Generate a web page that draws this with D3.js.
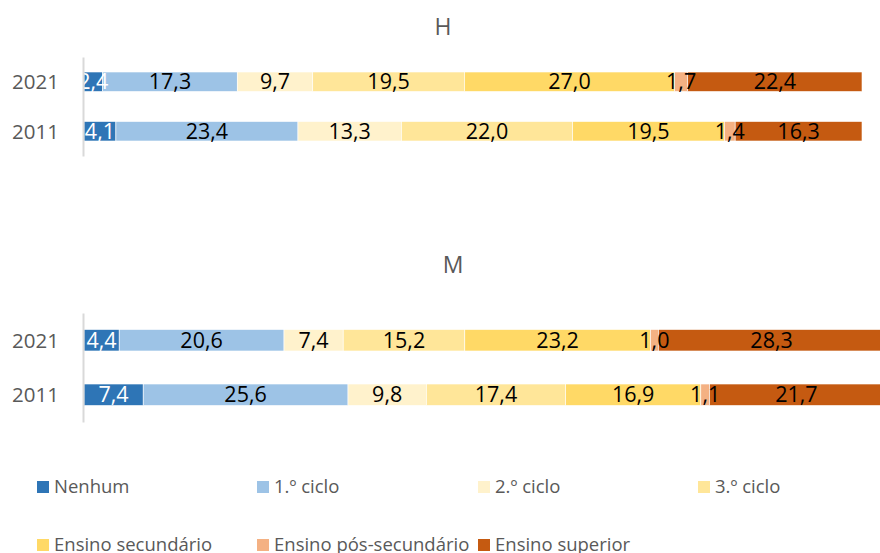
<!DOCTYPE html>
<html>
<head>
<meta charset="utf-8">
<script src="https://cdn.jsdelivr.net/npm/d3@7"></script>
<style>
  html, body { margin: 0; padding: 0; background: #fff; }
  svg { display: block; }
  text { font-family: "Open Sans", "DejaVu Sans", sans-serif; }
</style>
</head>
<body>
<svg id="chart" width="880" height="553"></svg>
<script>
// ---- data ----
const categories = ["Nenhum", "1.º ciclo", "2.º ciclo", "3.º ciclo", "Ensino secundário", "Ensino pós-secundário", "Ensino superior"];
const years = ["2021", "2011"];
const panelTitles = ["H", "M"];
const H2021 = [2.4, 17.3, 9.7, 19.5, 27.0, 1.7, 22.4];
const H2011 = [4.1, 23.4, 13.3, 22.0, 19.5, 1.4, 16.3];
const M2021 = [4.4, 20.6, 7.4, 15.2, 23.2, 1.0, 28.3];
const M2011 = [7.4, 25.6, 9.8, 17.4, 16.9, 1.1, 21.7];
const colors = ["#2E75B6", "#9DC3E6", "#FFF2CC", "#FFE699", "#FFD966", "#F4B183", "#C55A11"];
const labelColors = ["#FFFFFF", "#000000", "#000000", "#000000", "#000000", "#000000", "#000000"];

const svg = d3.select("#chart");
const fmt = v => d3.format(".1f")(v).replace(".", ",");

const panels = [
  { title: panelTitles[0], rows: { "2021": H2021, "2011": H2011 }, x0: 84, x1: 862, y0: 57, y1: 156, titleX: 443, titleY: 35 },
  { title: panelTitles[1], rows: { "2021": M2021, "2011": M2011 }, x0: 84, x1: 884, y0: 313, y1: 422, titleX: 453, titleY: 273 }
];

panels.forEach(p => {
  const x = d3.scaleLinear().domain([0, 100]).range([p.x0, p.x1]);
  const y = d3.scaleBand().domain(years).range([p.y0, p.y1]).paddingInner(0.606).paddingOuter(0.303);

  const table = years.map(yr => {
    const o = { year: yr };
    categories.forEach((c, i) => o[c] = p.rows[yr][i]);
    return o;
  });
  const series = d3.stack().keys(categories)(table);

  const g = svg.append("g");

  // title
  svg.append("text")
    .attr("x", p.titleX).attr("y", p.titleY)
    .attr("text-anchor", "middle")
    .attr("fill", "#595959")
    .attr("font-size", 23)
    .text(p.title);

  series.forEach((s, si) => {
    const sg = g.append("g");
    sg.selectAll("rect").data(s).join("rect")
      .attr("x", d => x(d[0]))
      .attr("width", d => x(d[1]) - x(d[0]))
      .attr("y", d => y(d.data.year))
      .attr("height", y.bandwidth())
      .attr("fill", colors[si])
      .attr("stroke", "#fff")
      .attr("stroke-width", 0.6);
  });

  series.forEach((s, si) => {
    g.append("g").selectAll("text").data(s).join("text")
      .attr("x", d => (x(d[0]) + x(d[1])) / 2)
      .attr("y", d => y(d.data.year) + y.bandwidth() / 2)
      .attr("dy", "0.36em")
      .attr("text-anchor", "middle")
      .attr("font-size", 21.5)
      .attr("fill", labelColors[si])
      .text(d => fmt(d[1] - d[0]));
  });

  // category axis
  const axis = d3.axisLeft(y).tickSize(0).tickSizeOuter(0).tickPadding(24);
  const ag = svg.append("g").attr("transform", `translate(${p.x0 - 1},0)`).call(axis);
  ag.select(".domain").attr("stroke", "#D9D9D9").attr("stroke-width", 2);
  ag.selectAll(".tick text")
    .attr("font-size", 20.5)
    .attr("fill", "#595959")
    .attr("dy", "0.36em")
    .attr("font-family", "Open Sans, DejaVu Sans, sans-serif");
});

// legend
const legendPos = [
  [37, 481], [257, 481], [478, 481], [698, 481],
  [37, 539], [257, 539], [478, 539]
];
const lg = svg.append("g");
categories.forEach((c, i) => {
  const [lx, ly] = legendPos[i];
  lg.append("rect").attr("x", lx).attr("y", ly).attr("width", 12).attr("height", 12).attr("fill", colors[i]);
  lg.append("text").attr("x", lx + 17).attr("y", ly + 12)
    .attr("font-size", 18.5).attr("fill", "#595959").text(c);
});
</script>
</body>
</html>
